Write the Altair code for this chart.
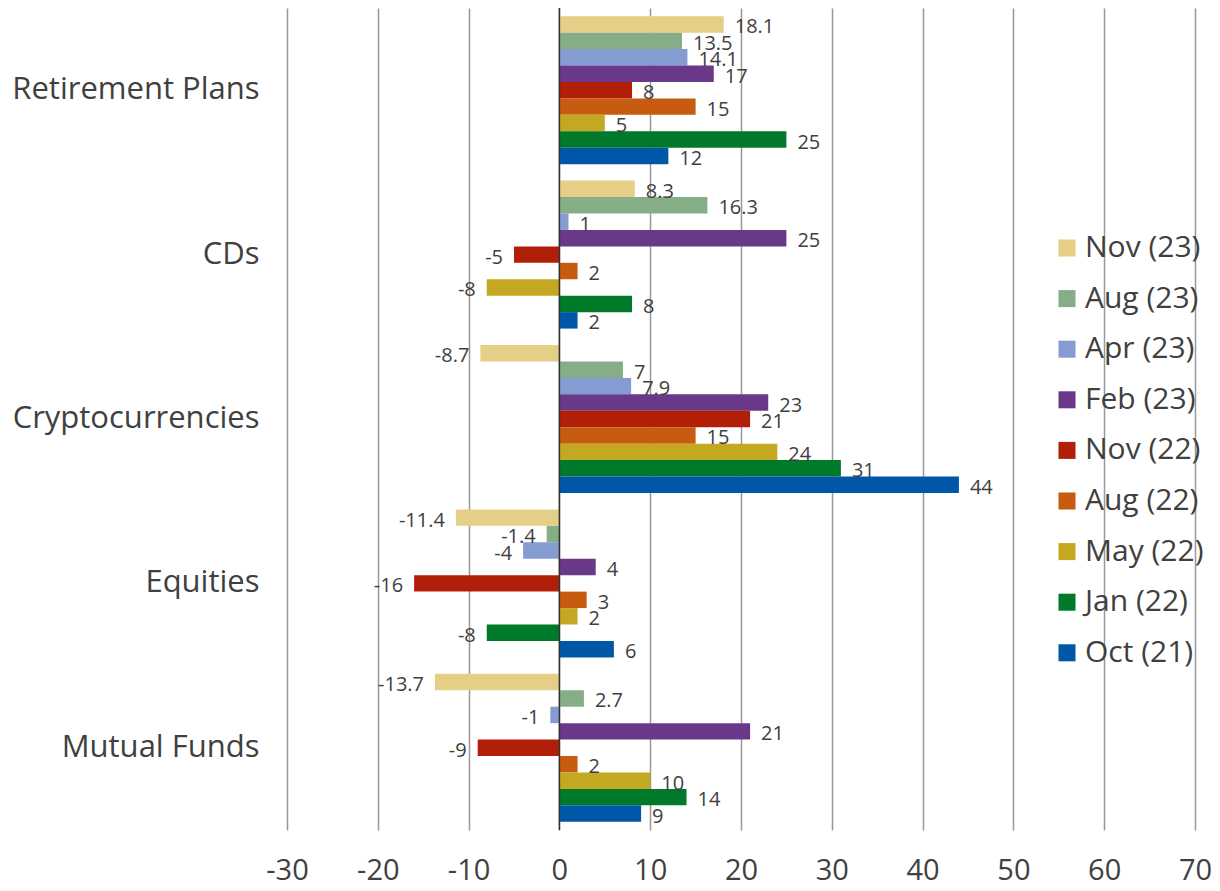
import altair as alt
import pandas as pd

categories = ["Retirement Plans", "CDs", "Cryptocurrencies", "Equities", "Mutual Funds"]
series = ["Nov (23)", "Aug (23)", "Apr (23)", "Feb (23)", "Nov (22)", "Aug (22)", "May (22)", "Jan (22)", "Oct (21)"]
colors = ["#E5CE86", "#85AE87", "#859CD3", "#693889", "#B21F08", "#C75B10", "#C5A821", "#00792B", "#0057A8"]

retirement = [18.1, 13.5, 14.1, 17, 8, 15, 5, 25, 12]
cds = [8.3, 16.3, 1, 25, -5, 2, -8, 8, 2]
crypto = [-8.7, 7, 7.9, 23, 21, 15, 24, 31, 44]
equities = [-11.4, -1.4, -4, 4, -16, 3, 2, -8, 6]
mutual = [-13.7, 2.7, -1, 21, -9, 2, 10, 14, 9]

rows = []
for cat, vals in zip(categories, [retirement, cds, crypto, equities, mutual]):
    for s, v in zip(series, vals):
        rows.append({"category": cat, "series": s, "value": v,
                     "label": ("%g" % v)})
df = pd.DataFrame(rows)

FONT = "Open Sans"

y_enc = alt.Y("category:N", sort=categories,
              scale=alt.Scale(paddingInner=0.1, paddingOuter=0.05),
              axis=alt.Axis(title=None, domain=False, ticks=False, labelFontSize=31,
                            labelColor="#404040", labelPadding=28, labelFont=FONT,
                            labelLimit=400))
yoff = alt.YOffset("series:N", sort=series, scale=alt.Scale(paddingInner=0, paddingOuter=0))
x_scale = alt.Scale(domain=[-30, 70], nice=False, zero=False)

base = alt.Chart(df)

bars = base.mark_bar(strokeWidth=0).encode(
    x=alt.X("value:Q", scale=x_scale,
            axis=alt.Axis(title=None, values=list(range(-30, 80, 10)), domain=False, ticks=False,
                          grid=True, gridColor="#999999", gridWidth=1.5,
                          labelFontSize=29, labelColor="#404040", labelPadding=26,
                          labelFont=FONT, labelFlush=False, labelExpr="'' + datum.value")),
    y=y_enc,
    yOffset=yoff,
    color=alt.Color("series:N", sort=series,
                    scale=alt.Scale(domain=series, range=colors),
                    legend=alt.Legend(title=None, orient="none", legendX=765, legendY=225,
                                      symbolType="square", symbolSize=290, symbolStrokeWidth=0,
                                      labelFontSize=30, labelFont=FONT, labelColor="#404040",
                                      labelLimit=300, rowPadding=20.6, symbolOffset=0,
                                      labelOffset=3)),
)

pos_labels = base.transform_filter("datum.value >= 0").mark_text(
    align="left", baseline="middle", dx=11, dy=3, fontSize=20, font=FONT, color="#404040"
).encode(x=alt.X("value:Q", scale=x_scale), y=y_enc, yOffset=yoff, text="label:N")

neg_labels = base.transform_filter("datum.value < 0").mark_text(
    align="right", baseline="middle", dx=-11, dy=3, fontSize=20, font=FONT, color="#404040"
).encode(x=alt.X("value:Q", scale=x_scale), y=y_enc, yOffset=yoff, text="label:N")

zero_df = pd.DataFrame({"zero": [0]})
zero_rule = alt.Chart(zero_df).mark_rule(color="#333333", strokeWidth=1.5).encode(
    x=alt.X("zero:Q", scale=x_scale))

chart = alt.layer(bars, zero_rule, pos_labels, neg_labels).properties(
    width=908, height=822,
    autosize=alt.AutoSizeParams(type="none"),
    padding={"left": 279, "top": 0, "right": 17, "bottom": 60},
).configure_view(stroke=None)

chart.save("out.html", embed_options={"renderer": "svg", "actions": False})
